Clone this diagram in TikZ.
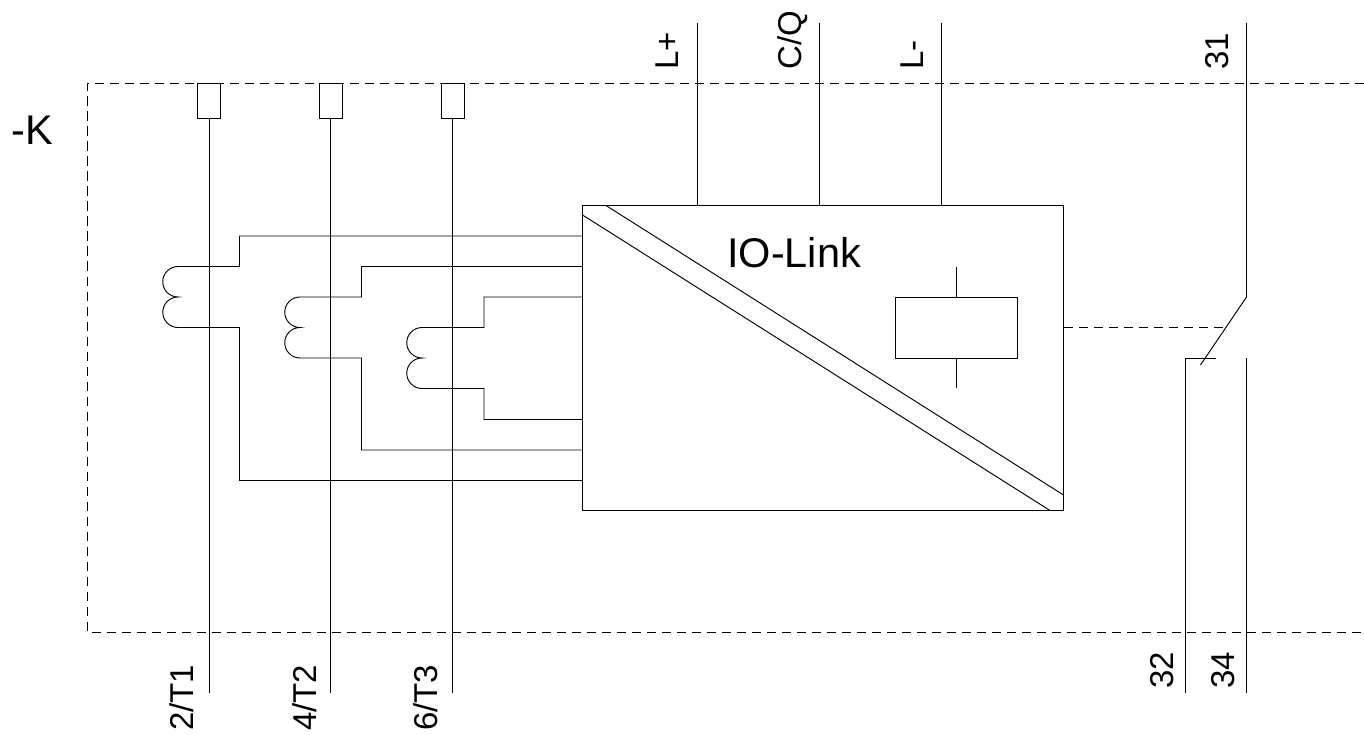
\documentclass[tikz,border=0pt]{standalone}
\usepackage{fontspec}
\setmainfont{Liberation Sans}
\tikzset{
  wire/.style={draw=black,line width=0.95pt,line join=miter},
  dashwire/.style={wire,dash pattern=on 9.5pt off 5.5pt},
  termbox/.style={draw=black,line width=0.95pt,fill=white,minimum width=23pt,minimum height=34.5pt,inner sep=0pt,outer sep=0pt,anchor=north},
  blockbox/.style={draw=black,line width=0.95pt,minimum width=481pt,minimum height=305pt,inner sep=0pt,outer sep=0pt,anchor=north west},
  relaybox/.style={draw=black,line width=0.95pt,minimum width=122pt,minimum height=61pt,inner sep=0pt,outer sep=0pt,anchor=north west},
  pinlabel/.style={font=\fontsize{33}{33}\selectfont,rotate=90,inner sep=0pt},
  biglabel/.style={font=\fontsize{41.5}{41.5}\selectfont,inner sep=0pt,anchor=base west},
}
\begin{document}
\begin{tikzpicture}[x=1pt,y=-1pt]
\useasboundingbox (0,0) rectangle (1364,735);
% enclosure
\coordinate (dtl) at (87,83.5);
\coordinate (dtr) at (1364,83.5);
\coordinate (dbl) at (87,632);
\coordinate (dbr) at (1364,632);
\draw[dashwire] (dtr) -- (dtl) -- (dbl) -- (dbr);
% terminals
\node[termbox] (t1) at (209,83.5) {};
\node[termbox] (t2) at (330.5,83.5) {};
\node[termbox] (t3) at (452.5,83.5) {};
\coordinate (e1) at (209,693);
\coordinate (e2) at (330.5,693);
\coordinate (e3) at (452.5,693);
\draw[wire] (t1.south) -- (e1);
\draw[wire] (t2.south) -- (e2);
\draw[wire] (t3.south) -- (e3);
\node[pinlabel,anchor=base west] (l1) at (193,731) {2/T1};
\node[pinlabel,anchor=base west] (l2) at (316,731) {4/T2};
\node[pinlabel,anchor=base west] (l3) at (437,731) {6/T3};
% main block
\node[blockbox] (main) at (582.5,205.5) {};
\node[relaybox] (relay) at (895,297) {};
\coordinate (ds1a) at (582.5,215);
\coordinate (ds1b) at (1050,510.5);
\coordinate (ds2a) at (606,205.5);
\coordinate (ds2b) at (1063.5,495);
\draw[wire] (ds1a) -- (ds1b);
\draw[wire] (ds2a) -- (ds2b);
\coordinate (rs1) at (956,267);
\coordinate (rs2) at (956,388);
\draw[wire] (rs1) -- (relay.north);
\draw[wire] (relay.south) -- (rs2);
\node[biglabel] (io) at (727,267) {IO-Link};
\node[biglabel] (k) at (11,145) {-K};
% supply lines
\coordinate (s1) at (697,23);
\coordinate (s2) at (819.5,23);
\coordinate (s3) at (941.5,23);
\draw[wire] (s1) -- (s1 |- main.north);
\draw[wire] (s2) -- (s2 |- main.north);
\draw[wire] (s3) -- (s3 |- main.north);
\node[pinlabel,anchor=base west] (ll1) at (678,70) {L+};
\node[pinlabel,anchor=base west] (ll2) at (801,70) {C/Q};
\node[pinlabel,anchor=base west] (ll3) at (923,70) {L-};
\node[pinlabel,anchor=base west] (ll4) at (1228,70) {31};
% coils and loops
\coordinate (c1t) at (178,266.5);
\coordinate (c2t) at (300,297);
\coordinate (c3t) at (422,327.5);
\draw[wire] (main.west |- 0,236) -- (239.5,236) -- (239.5,266.5) -- (c1t)
  arc[start angle=90,end angle=270,radius=15.25pt]
  arc[start angle=90,end angle=270,radius=15.25pt]
  -- (239.5,327.5) -- (239.5,480.5) -- (main.west |- 0,480.5);
\draw[wire] (main.west |- 0,266.5) -- (361.5,266.5) -- (361.5,297) -- (c2t)
  arc[start angle=90,end angle=270,radius=15.25pt]
  arc[start angle=90,end angle=270,radius=15.25pt]
  -- (361.5,358) -- (361.5,450) -- (main.west |- 0,450);
\draw[wire] (main.west |- 0,297) -- (484,297) -- (484,327.5) -- (c3t)
  arc[start angle=90,end angle=270,radius=15.25pt]
  arc[start angle=90,end angle=270,radius=15.25pt]
  -- (484,388.5) -- (484,419.5) -- (main.west |- 0,419.5);
% contact
\coordinate (k31) at (1246.5,23);
\coordinate (k31b) at (1246.5,297);
\coordinate (kblade) at (1200.5,365);
\coordinate (k32) at (1185,693);
\coordinate (k32c) at (1185,358);
\coordinate (k32d) at (1216,358);
\coordinate (k34) at (1246.5,693);
\coordinate (k34t) at (1246.5,358);
\coordinate (kact) at (1225,327.5);
\draw[wire] (k31) -- (k31b) -- (kblade);
\draw[wire] (k32) -- (k32c) -- (k32d);
\draw[wire] (k34) -- (k34t);
\draw[dashwire] (main.east |- kact) -- (kact);
\node[pinlabel,anchor=base west] (l32) at (1173,689) {32};
\node[pinlabel,anchor=base west] (l34) at (1234,689) {34};
\end{tikzpicture}
\end{document}
